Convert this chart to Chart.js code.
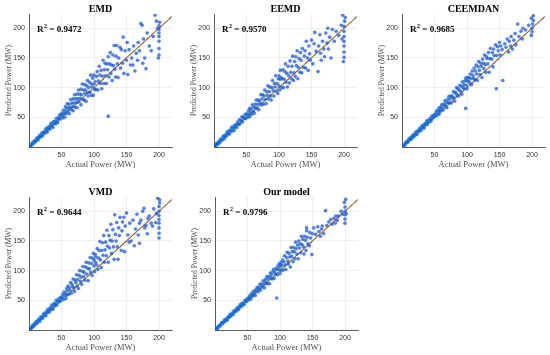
<!DOCTYPE html>
<html>
<head>
<meta charset="utf-8">
<script src="https://cdn.jsdelivr.net/npm/chart.js@4/dist/chart.umd.min.js"></script>
<style>
  body { margin: 0; background: #fff; }
  #wrap { position: relative; width: 550px; height: 355px; }
  canvas { position: absolute; }
</style>
</head>
<body>
<div id="wrap">
  <canvas id="c0" width="183" height="176" style="left:0px;top:0px"></canvas>
  <canvas id="c1" width="183" height="176" style="left:185px;top:0px"></canvas>
  <canvas id="c2" width="177" height="176" style="left:373px;top:0px"></canvas>
  <canvas id="c3" width="183" height="176" style="left:0px;top:183px"></canvas>
  <canvas id="c4" width="183" height="176" style="left:186px;top:183px"></canvas>
</div>
<script>
// panel titles and R2 values
const titles = ['EMD', 'EEMD', 'CEEMDAN', 'VMD', 'Our model'];
const r2 = ['0.9472', '0.9570', '0.9685', '0.9644', '0.9796'];
const ticks = [50, 100, 150, 200];

// actual vs predicted power (MW)
const lowX = [1,2,3,4,5,6,7,8,9,10,11,12,13,14,15,16,17,18,19,20,21,22,23,24,25,26,27,28,29,30,
  31,32,33,34,35,36,37,38,39,40,41,42,43,44,45,46,47,48,49,50];

const emdActual = lowX.concat([51,52,53,54,55,56,56,57,58,59,60,61,62,62,63,64,65,66,67,68,68,69,70,71,72,73,74,74,75,76,77,78,79,80,80,81,82,83,84,85,86,86,87,88,89,90,90,91,92,93,94,95,96,96,97,98,99,100,100,101,
  102,103,104,105,106,107,108,109,110,111,112,113,114,115,116,117,118,119,120,121,122,122,123,124,125,126,127,128,129,130,131,132,133,134,135,136,137,138,140,141,142,144,145,146,148,150,151,152,154,156,
  158,160,161,163,165,167,168,170,172,174,175,176,178,180,182,185,188,191,194,196,198,199,200,200,200,200,200,200,200,201]);
const emdPred = [1,3,2,5,5,8,6,9,11,9,11,15,14,12,17,16,20,17,20,24,19,24,23,27,24,31,28,25,31,34,31,30,36,40,34,38,33,43,40,43,39,48,43,41,49,48,54,47,52,55,
  57,49,62,56,50,68,60,56,65,73,60,66,56,72,66,80,63,74,68,61,81,74,88,67,81,75,66,89,81,96,76,89,82,71,97,88,106,80,96,79,105,90,96,77,103,92,112,86,100,109,92,121,87,106,101,116,87,106,121,97,
  110,97,119,127,96,111,136,121,107,129,98,119,146,107,130,141,120,107,140,130,52,152,118,140,159,124,138,112,155,137,171,131,118,153,171,140,117,150,168,133,164,141,185,124,162,146,176,122,164,138,
  150,138,170,128,158,146,176,162,208,205,141,182,150,132,192,170,162,186,222,212,200,150,155,166,178,186,192,198,204,210];

const eemdActual = lowX.concat([51,52,53,54,55,55,56,57,58,59,60,61,62,63,64,65,66,67,68,69,70,71,72,73,74,75,76,77,78,79,80,81,82,83,84,85,86,87,88,89,90,91,92,93,94,95,96,97,98,99,100,100,101,102,102,
  103,104,105,106,107,108,109,110,111,112,113,114,115,116,117,118,119,120,121,122,123,124,125,126,127,128,129,130,131,132,133,134,135,136,138,139,140,141,142,144,145,146,147,148,150,152,154,155,157,160,
  161,163,164,165,167,169,170,172,174,175,176,178,180,182,185,188,192,196,198,199,200,200,200,200,200,200,200,201,202,197]);
const eemdPred = [1,1,4,6,4,6,9,9,7,13,11,13,12,18,17,14,20,19,18,25,23,22,27,22,28,27,33,27,31,34,28,37,34,37,33,42,39,38,46,39,45,44,51,42,50,49,48,55,48,54,
  56,50,61,55,51,65,59,64,55,71,60,67,57,72,66,79,65,72,79,63,78,74,88,71,81,88,72,86,96,80,73,93,87,103,81,93,101,86,79,100,112,95,86,107,101,120,94,107,90,115,103,120,96,114,129,
  117,100,115,130,100,114,127,140,109,124,101,136,120,108,145,126,115,136,153,112,125,144,119,152,137,162,115,134,149,126,159,146,125,166,134,153,162,133,178,150,129,170,157,146,180,140,174,193,161,127,
  170,189,158,146,178,165,152,192,175,200,165,185,150,198,178,195,188,205,222,144,151,160,170,178,186,195,203,212,218,182];

const ceemdanActual = lowX.concat([51,52,53,54,55,56,57,57,58,59,60,61,62,63,64,65,66,67,68,69,70,71,72,73,74,75,76,77,78,79,80,81,82,83,84,85,86,87,88,89,90,91,92,93,94,95,96,97,98,98,99,100,100,101,102,
  103,104,105,106,107,108,109,110,111,112,113,114,115,116,117,118,119,120,121,122,123,124,125,126,127,128,129,130,131,132,133,134,135,136,138,139,140,141,142,144,145,146,147,148,150,151,152,154,155,158,
  160,162,164,165,167,168,170,172,174,175,178,180,183,186,190,195,199,200,200,201,202,202,199,185]);
const ceemdanPred = [1,3,3,3,6,8,7,9,8,12,12,15,13,13,17,17,20,17,21,20,25,23,21,27,27,26,31,29,28,33,36,32,35,32,39,37,40,44,38,42,45,42,48,46,44,52,50,49,54,52,
  54,58,53,62,57,61,55,66,62,60,67,71,65,62,72,70,78,69,74,66,80,75,85,74,81,86,74,86,83,93,83,77,92,90,100,87,98,86,96,104,94,102,89,110,100,105,98,111,65,116,104,112,98,117,111,
  117,108,123,115,105,128,121,116,133,113,128,138,123,112,135,144,129,122,141,136,117,148,141,132,155,139,126,152,149,140,159,126,149,166,148,159,135,165,154,172,98,154,169,162,176,155,170,164,112,174,
  168,182,160,178,170,186,165,180,191,172,207,186,195,200,197,205,188,194,200,207,213,221,217,182];

const vmdActual = lowX.concat([51,52,53,54,55,56,57,58,58,59,60,61,62,63,64,65,66,67,68,69,70,71,72,73,74,75,76,77,78,79,80,81,82,83,84,85,86,87,88,89,90,91,92,93,94,95,96,97,98,99,100,100,101,102,102,
  103,104,105,106,107,108,109,110,111,112,113,114,115,116,117,118,119,120,121,122,123,124,125,126,127,128,129,130,131,132,133,134,135,136,137,138,139,140,142,143,144,146,147,148,150,152,154,155,157,160,
  162,164,166,168,170,172,175,177,178,180,183,185,188,192,195,198,200,200,200,200,200,200,200,200,201,201,196,190,182,170]);
const vmdPred = [1,3,2,4,7,7,6,10,9,11,14,11,15,14,18,17,15,22,20,22,20,25,28,24,27,24,31,29,35,32,30,35,38,34,42,38,35,42,45,41,44,50,42,49,47,53,50,48,55,54,
  55,60,51,64,58,62,53,70,59,66,74,60,71,67,80,62,77,73,86,71,65,84,80,93,74,85,70,92,100,82,89,77,99,107,90,97,84,106,114,94,104,83,113,103,122,97,112,92,121,129,108,118,98,127,114,
  123,110,137,102,121,134,149,118,105,134,147,126,159,114,135,148,125,168,141,114,159,138,151,178,129,150,169,140,119,194,161,150,181,140,119,172,159,190,134,167,182,190,132,175,197,160,148,180,150,185,
  142,170,195,160,146,185,200,205,172,176,188,192,180,204,181,222,155,163,172,180,186,193,200,208,214,219,196,175,162,180];

const oursActual = lowX.concat([51,52,53,54,55,56,57,58,59,60,61,62,63,64,65,66,67,68,69,70,71,72,73,74,75,76,77,78,79,80,81,82,83,84,85,86,87,88,89,90,91,92,93,94,95,95,96,97,98,99,100,100,101,102,102,
  103,104,105,106,107,108,109,110,111,112,113,114,115,116,117,118,119,120,121,122,123,124,125,126,127,128,129,130,131,132,133,134,135,136,137,138,139,140,141,141,142,143,145,146,147,149,150,152,155,158,
  160,162,164,165,167,170,172,175,178,180,183,186,190,194,196,199,200,200,200,200,200,201,202,188,185]);
const oursPred = [1,3,3,3,6,6,8,7,9,12,12,11,13,15,17,15,17,19,17,22,22,22,26,23,26,28,27,26,32,31,31,34,32,37,36,34,39,38,43,41,40,45,45,44,43,50,48,50,48,53,
  53,51,57,55,52,61,59,57,65,60,64,58,68,66,72,64,71,69,77,67,74,78,72,83,77,71,82,86,79,90,78,86,90,78,96,88,93,86,98,102,87,97,94,104,54,102,93,108,102,112,95,106,110,100,114,
  109,118,101,115,125,110,102,122,131,116,111,129,123,106,139,124,132,115,139,132,120,148,137,128,143,120,150,138,145,130,158,144,153,140,128,158,151,134,167,172,156,145,142,164,155,127,162,172,161,174,
  166,158,170,175,162,201,176,182,186,178,188,192,192,200,195,215,180,187,194,200,207,220,196,185,180];

const actuals = [emdActual, eemdActual, ceemdanActual, vmdActual, oursActual];
const preds = [emdPred, eemdPred, ceemdanPred, vmdPred, oursPred];

const serif = "'Liberation Serif', 'Times New Roman', serif";
const sans = "'Liberation Sans', Arial, sans-serif";

// draws the bold panel title and the R^2 label
const panelText = {
  id: 'panelText',
  afterDraw(chart, args, opts) {
    const ctx = chart.ctx, a = chart.chartArea;
    ctx.save();
    ctx.fillStyle = '#000';
    ctx.font = 'bold 10px ' + serif;
    ctx.textAlign = 'center';
    ctx.textBaseline = 'alphabetic';
    ctx.fillText(opts.title, (a.left + a.right) / 2, a.top - 2);
    ctx.textAlign = 'left';
    let x = a.left + 8, y = a.top + 18;
    ctx.font = 'bold 9px ' + serif;
    ctx.fillText('R', x, y);
    x += ctx.measureText('R').width;
    ctx.font = 'bold 6px ' + serif;
    ctx.fillText('2', x + 0.5, y - 4);
    x += ctx.measureText('2').width + 0.5;
    ctx.font = 'bold 9px ' + serif;
    ctx.fillText(' = ' + r2[opts.idx], x, y);
    ctx.restore();
  }
};

function axis(max, titleText, isY) {
  return {
    type: 'linear',
    min: 0,
    max: max,
    afterBuildTicks: s => { s.ticks = ticks.map(v => ({ value: v })); },
    afterFit: s => { if (isY) s.width = 25; else s.height = 29; },
    grid: { color: '#e6e6e6', lineWidth: 0.7, drawTicks: false },
    border: { color: '#333', width: 0.8 },
    ticks: { color: '#333', font: { family: sans, size: 7 }, padding: 4, maxRotation: 0 },
    title: {
      display: true, text: titleText, color: '#505050',
      font: { family: serif, size: isY ? 7.6 : 8.5 },
      padding: isY ? { top: 0, bottom: 2 } : { top: 0, bottom: 6 }
    }
  };
}

for (let i = 0; i < 5; i++) {
  const pts = actuals[i].map((v, k) => ({ x: v, y: preds[i][k] }));
  new Chart(document.getElementById('c' + i), {
    type: 'scatter',
    data: {
      datasets: [
        { data: pts, pointRadius: 3.4, pointBorderWidth: 0, backgroundColor: 'rgba(0,230,255,0.04)' },
        { data: pts, pointRadius: 1.8, pointBorderWidth: 0, backgroundColor: 'rgba(45,65,190,0.72)' },
        { type: 'line', data: [{ x: 0, y: 0 }, { x: 220, y: 220 }], borderColor: '#6f7f3a', borderWidth: 1.1,
          borderDash: [3, 3], pointRadius: 0 },
        { type: 'line', data: [{ x: 0, y: 0 }, { x: 220, y: 220 }], borderColor: '#b8321e', borderWidth: 1.1,
          borderDash: [3, 3], borderDashOffset: 3, pointRadius: 0 }
      ]
    },
    options: {
      responsive: false,
      animation: false,
      devicePixelRatio: 1,
      layout: { padding: { top: 14, right: i === 2 ? 5 : 11, left: 4, bottom: 0 } },
      plugins: {
        legend: { display: false },
        tooltip: { enabled: false },
        panelText: { title: titles[i], idx: i }
      },
      scales: {
        x: axis(220, 'Actual Power (MW)', false),
        y: axis(224, 'Predicted Power (MW)', true)
      }
    },
    plugins: [panelText]
  });
}
</script>
</body>
</html>
